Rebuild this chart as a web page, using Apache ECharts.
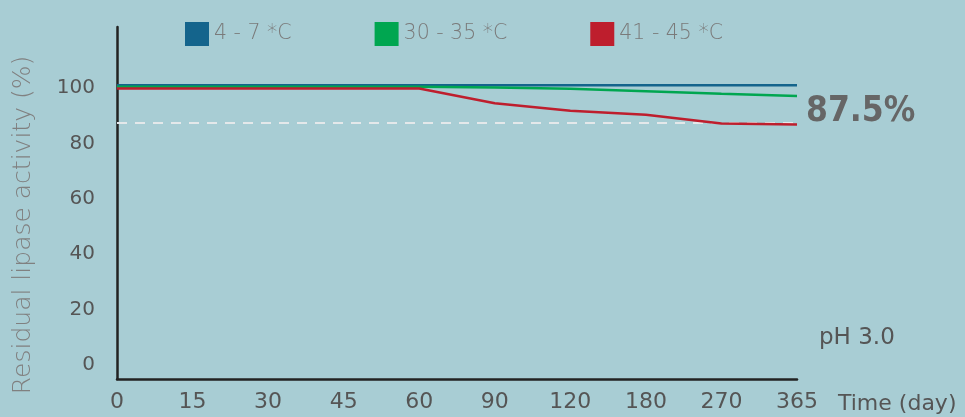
<!DOCTYPE html>
<html><head><meta charset="utf-8">
<script src="https://cdn.jsdelivr.net/npm/echarts@6/dist/echarts.min.js"></script>
<style>html,body{margin:0;padding:0;background:#a8cdd4;}#c{width:965px;height:417px;}</style>
</head><body><div id="c"></div>
<script>
var categories = ['0','15','30','45','60','90','120','180','270','365'];
var seriesNames = ['4 - 7 *C','30 - 35 *C','41 - 45 *C'];
var cold = [101,101,101,101,101,101,101,101,101,101];
var warm = [100.4,100.4,100.4,100.4,100.4,100.2,99.7,98.8,97.9,97.1];
var hot = [99.8,99.8,99.8,99.8,99.8,94.5,91.8,90.3,87.2,86.8];
var threshold = 87.5;
var yTicks = [0,20,40,60,80,100];
var colors = ['#14648c','#00a650','#be1e2d'];

var chart = echarts.init(document.getElementById('c'));
function mk(name, data, i, extra){
  var s = {name:name,type:'line',data:data,symbol:'none',smooth:false,
    lineStyle:{width:2.5,color:colors[i]},itemStyle:{color:colors[i]},z:3+i};
  if(extra) Object.assign(s, extra);
  return s;
}
chart.setOption({
  backgroundColor:'#a8cdd4',
  animation:false,
  legend:{top:17,left:180,itemWidth:24,itemHeight:24,itemGap:83,icon:'rect',
    textStyle:{color:'#7a7a7a',fontSize:20.5,fontFamily:'DejaVu Sans',fontWeight:200},
    data:seriesNames},
  grid:{left:117,right:168,top:27,bottom:38,outerBoundsMode:'none',containLabel:false},
  xAxis:{type:'category',data:categories,boundaryGap:false,
    axisLine:{onZero:false,lineStyle:{color:'#222',width:2.5}},axisTick:{show:false},
    axisLabel:{color:'#555',fontSize:22,fontFamily:'DejaVu Sans',margin:12,interval:0},
    name:'Time (day)',nameLocation:'end',nameGap:41,
    nameTextStyle:{color:'#555',fontSize:22,fontFamily:'DejaVu Sans',verticalAlign:'top',padding:[14,0,0,0]}},
  yAxis:{type:'value',min:-5,max:122,
    axisLine:{show:true,lineStyle:{color:'#222',width:2.5}},axisTick:{show:false},splitLine:{show:false},
    axisLabel:{color:'#555',fontSize:20,fontFamily:'DejaVu Sans',margin:22,customValues:yTicks},
    name:'Residual lipase activity (%)',nameLocation:'middle',nameGap:81,
    nameTextStyle:{color:'#808080',fontSize:25,fontFamily:'DejaVu Sans',fontWeight:200,padding:[0,44,0,0]}},
  series:[
    mk(seriesNames[0],cold,0),
    mk(seriesNames[1],warm,1),
    mk(seriesNames[2],hot,2,{markLine:{silent:true,symbol:'none',
      lineStyle:{type:[10,8],color:'#e4e8ea',width:2},label:{show:false},
      data:[{yAxis:threshold}]}})
  ],
  graphic:[
    {type:'text',left:806,top:94,style:{text:'87.5%',fill:'#666',font:'bold 35px "DejaVu Sans Condensed", "DejaVu Sans"'}},
    {type:'text',left:819,top:327,style:{text:'pH 3.0',fill:'#555',font:'23px "DejaVu Sans"'}}
  ]
});
</script></body></html>
